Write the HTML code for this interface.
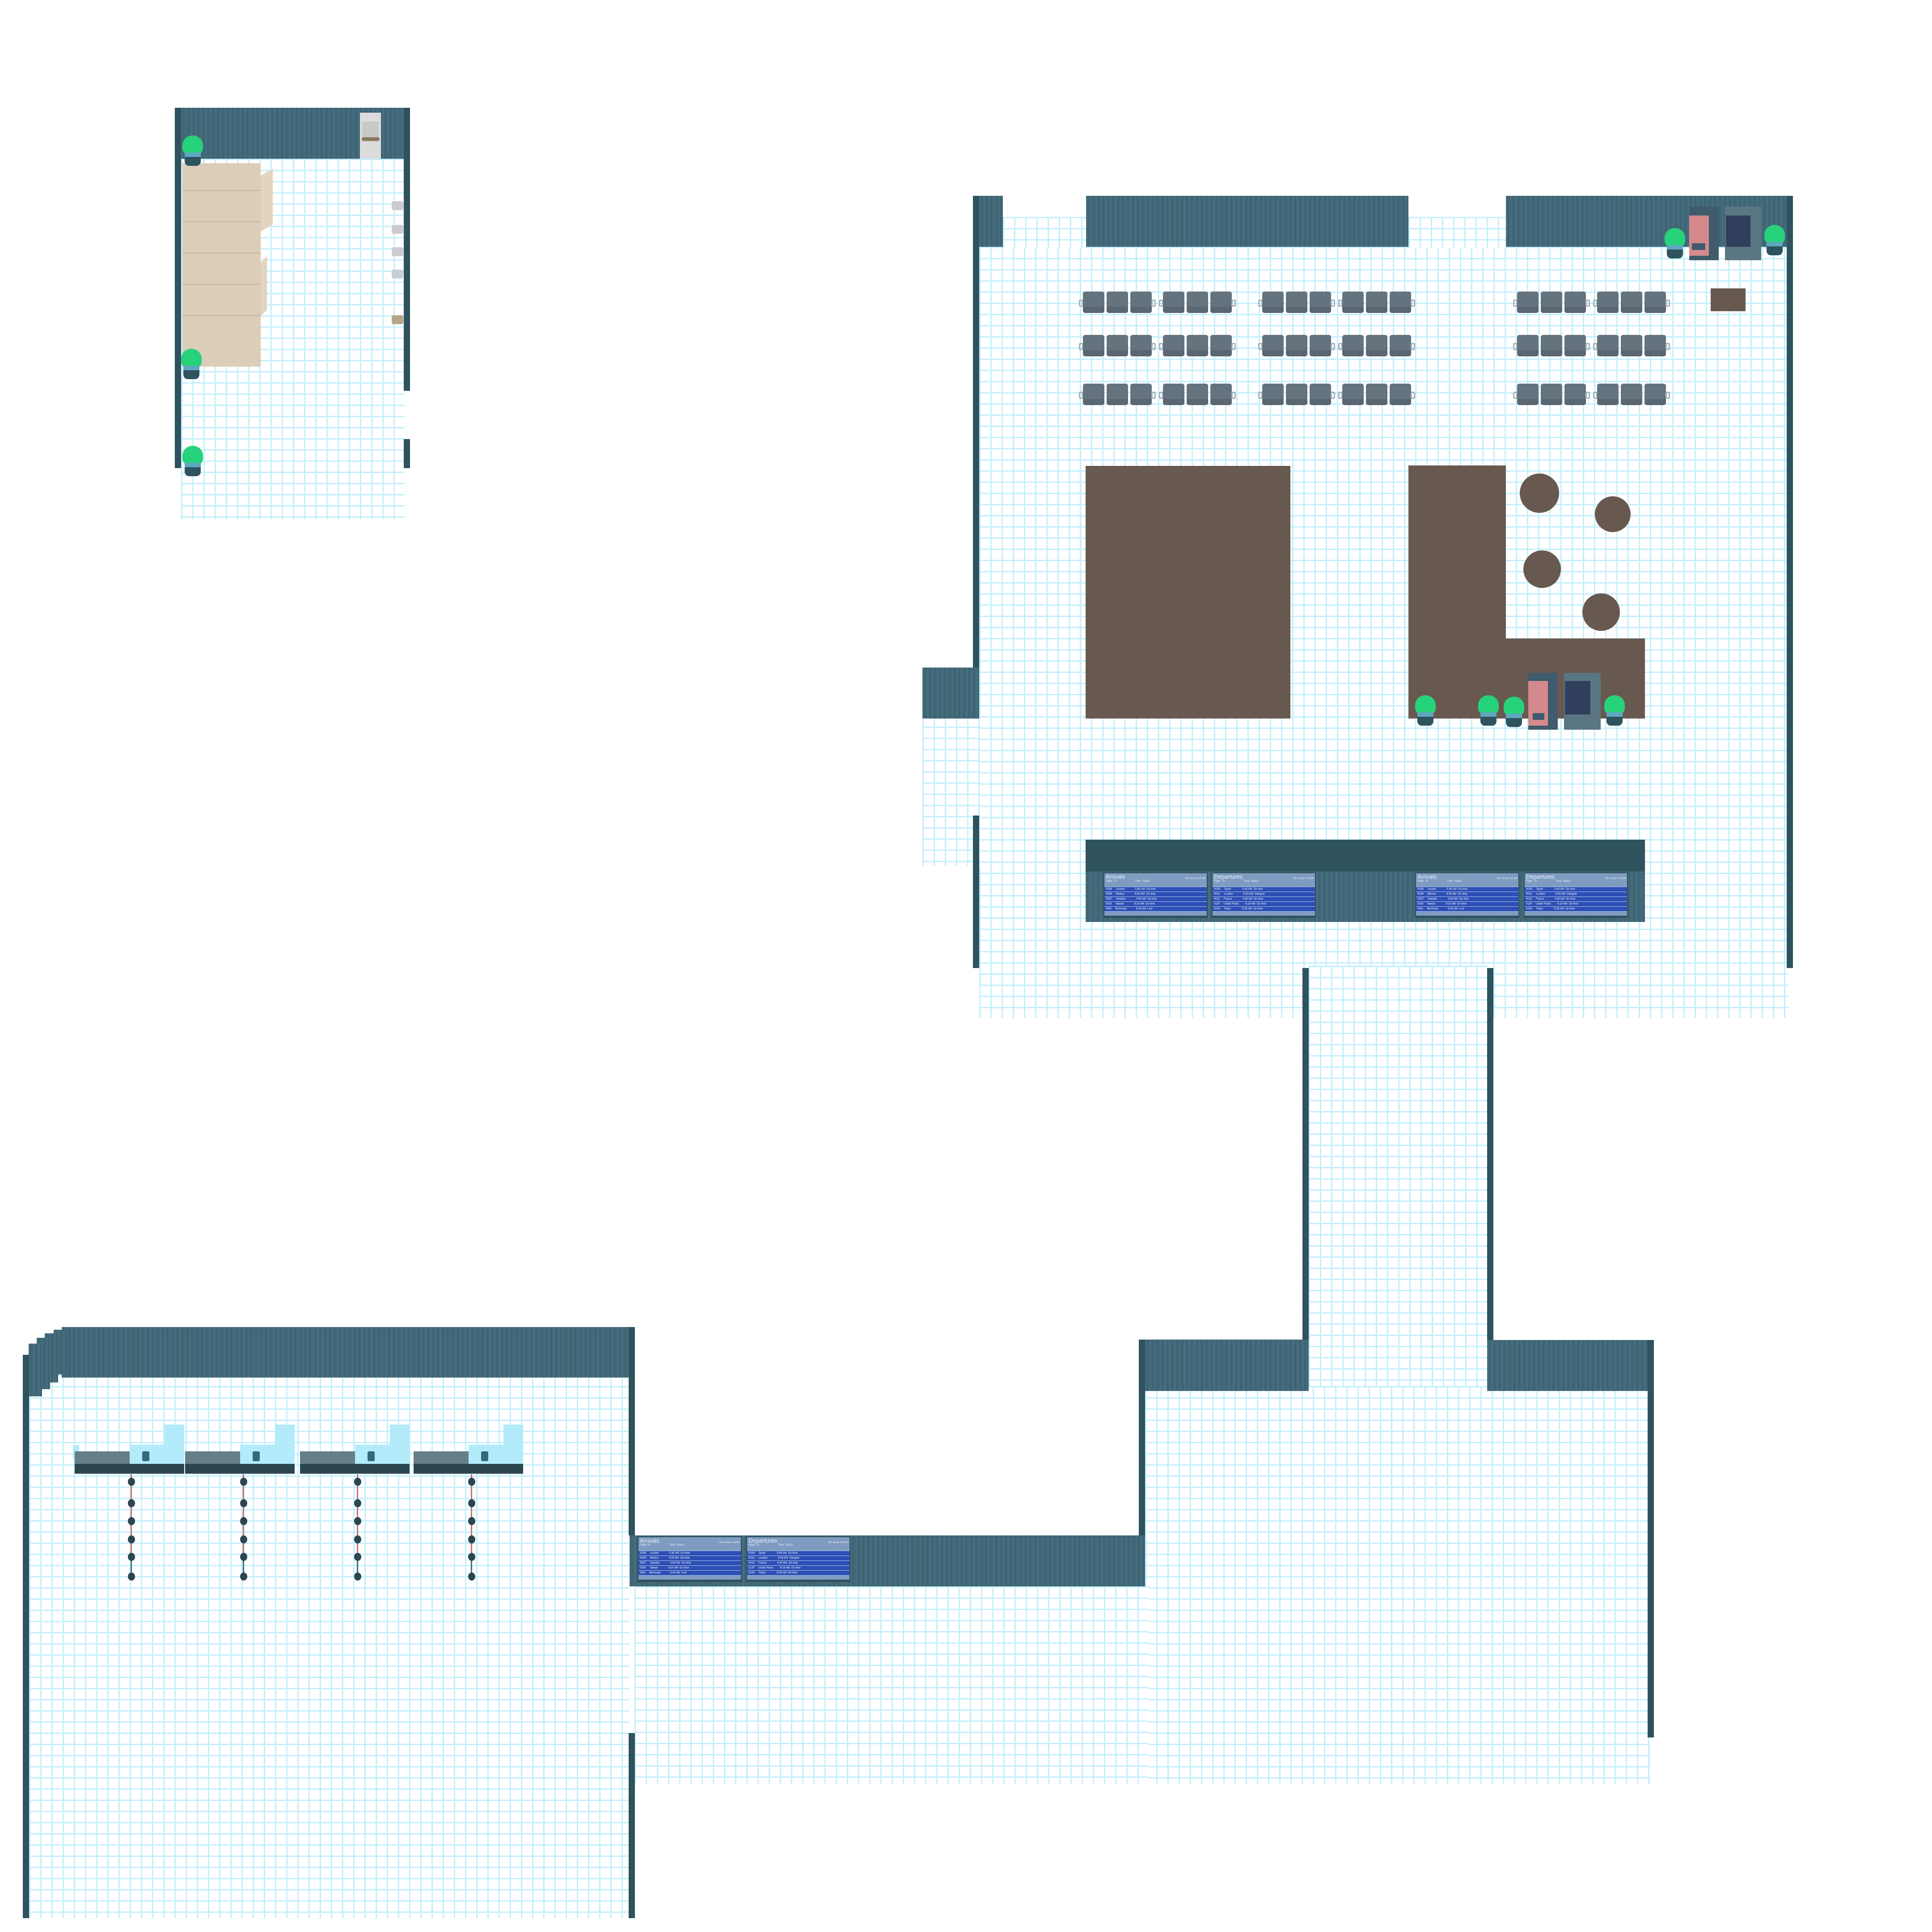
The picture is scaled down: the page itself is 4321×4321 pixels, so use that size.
<!DOCTYPE html>
<html><head><meta charset="utf-8"><style>
*{margin:0;padding:0;box-sizing:border-box}
body{width:4321px;height:4321px;background:#fff;position:relative;overflow:hidden;font-family:"Liberation Sans",sans-serif}
div{position:absolute}
.g{background-color:#fff;background-image:linear-gradient(90deg,#c4effc 0,#c4effc 3px,transparent 3px),linear-gradient(0deg,transparent 22px,#c4effc 22px,#c4effc 25px);background-size:25px 25px;background-attachment:local}
.w{background:#41697a;background-image:repeating-linear-gradient(90deg,rgba(255,255,255,.04) 0 3px,rgba(0,0,0,.05) 3px 7px,transparent 7px 11px)}
.d{background:#2e535e}
.br{background:#685950}
.pl{width:46px;height:70px}
.pl i{position:absolute;left:0;top:0;width:46px;height:44px;background:#27d37a;border-radius:50% 50% 35% 35%}
.pl b{position:absolute;left:5px;top:38px;width:36px;height:12px;background:#5fa7bf}
.pl u{position:absolute;left:5px;top:48px;width:36px;height:20px;background:#2e535e;border-radius:0 0 10px 10px}
.bench{width:174px;height:50px}
.bench s{position:absolute;top:0;width:48px;height:48px;background:#65737f;border-radius:5px;border-bottom:14px solid #5a6671}
.bench em{position:absolute;top:18px;width:10px;height:16px;border:3px solid #a8b1ba;border-radius:3px}
.brd{width:233px;height:102px;background:#2e4f5c;padding:2px}
.brd .h{position:relative;height:30px;background:#7f9cc0;color:#e8efff;font-size:13px;padding:1px 3px;line-height:13px}
.brd .h small{position:absolute;right:3px;top:6px;font-size:5px}
.brd .h span{display:block;font-size:6px;line-height:8px}
.brd .r{position:relative;height:11px;background:#2d4fb5;border-top:1px solid #a8c3ee;color:#fff;font-size:6px;line-height:10px;padding-left:3px;white-space:pre}
.brd .f{position:relative;height:10px;background:#7f9cc0;border-top:1px solid #a8c3ee}
.cu{width:250px;height:130px}
.cu .t{left:78px;top:0;width:44px;height:50px;background:#b3ebfb}
.cu .m{left:0;top:45px;width:122px;height:43px;background:#b3ebfb}
.cu .bz{left:-123px;top:60px;width:123px;height:30px;background:#647f87}
.cu .bl{left:-123px;top:88px;width:123px;height:22px;background:#2b4651}
.cu .ml{left:0;top:88px;width:122px;height:22px;background:#2b4651}
.cu .ic{left:28px;top:60px;width:16px;height:22px;background:#2f6a80;border-radius:3px}
.st{width:18px;height:240px}
.st .p{left:7px;top:0;width:3px;height:190px;background:#c77272}
.st .q{left:7px;top:190px;width:3px;height:40px;background:#3f6d7a}
.st .n{left:1px;width:16px;height:18px;background:#2b4651;border-radius:50%}
</style></head><body>

<!-- floors -->
<div class="g" style="left:405px;top:355px;width:500px;height:807px"></div>
<div class="g" style="left:2190px;top:552px;width:1810px;height:1725px"></div>
<div class="g" style="left:2243px;top:485px;width:186px;height:70px"></div>
<div class="g" style="left:3150px;top:485px;width:218px;height:70px"></div>
<div class="g" style="left:2063px;top:1600px;width:130px;height:337px"></div>
<div class="g" style="left:2927px;top:2160px;width:400px;height:960px"></div>
<div class="g" style="left:2561px;top:3100px;width:1130px;height:890px"></div>
<div class="g" style="left:1419px;top:3548px;width:1150px;height:442px"></div>
<div class="g" style="left:65px;top:3075px;width:1342px;height:1215px"></div>

<!-- storage room -->
<div class="w" style="left:405px;top:241px;width:498px;height:114px"></div>
<div class="d" style="left:391px;top:241px;width:14px;height:806px"></div>
<div class="d" style="left:903px;top:241px;width:14px;height:633px"></div>
<div class="d" style="left:903px;top:982px;width:14px;height:65px"></div>
<div style="left:805px;top:252px;width:47px;height:103px;background:#dcdcdc"><div style="left:5px;top:20px;width:37px;height:45px;background:#c8c8c8"></div><div style="left:4px;top:55px;width:40px;height:8px;background:#8a7a5c;border-radius:4px"></div></div>
<div style="left:408px;top:365px;width:175px;height:455px;background:#dccdb8"></div>
<div style="left:408px;top:425px;width:175px;height:2px;background:#c8b69c"></div>
<div style="left:408px;top:495px;width:175px;height:2px;background:#c8b69c"></div>
<div style="left:408px;top:565px;width:175px;height:2px;background:#c8b69c"></div>
<div style="left:408px;top:635px;width:175px;height:2px;background:#c8b69c"></div>
<div style="left:408px;top:705px;width:175px;height:2px;background:#c8b69c"></div>
<div style="left:583px;top:385px;width:27px;height:125px;background:#e2d4bf;transform:skewY(-30deg)"></div>
<div style="left:583px;top:580px;width:14px;height:120px;background:#e2d4bf;transform:skewY(-45deg)"></div>
<div style="left:876px;top:450px;width:26px;height:20px;background:#ccc;border-radius:4px"></div>
<div style="left:876px;top:503px;width:26px;height:20px;background:#ccc;border-radius:4px"></div>
<div style="left:876px;top:553px;width:26px;height:20px;background:#ccc;border-radius:4px"></div>
<div style="left:876px;top:603px;width:26px;height:20px;background:#c6d0d6;border-radius:4px"></div>
<div style="left:876px;top:705px;width:26px;height:20px;background:#b5a88a;border-radius:4px"></div>
<div class="pl" style="left:408px;top:303px"><i></i><b></b><u></u></div>
<div class="pl" style="left:405px;top:780px"><i></i><b></b><u></u></div>
<div class="pl" style="left:408px;top:997px"><i></i><b></b><u></u></div>

<!-- big room walls -->
<div class="d" style="left:2176px;top:438px;width:14px;height:1060px"></div>
<div class="w" style="left:2190px;top:438px;width:53px;height:114px"></div>
<div class="w" style="left:2429px;top:438px;width:721px;height:114px"></div>
<div class="w" style="left:3368px;top:438px;width:628px;height:114px"></div>
<div class="d" style="left:3996px;top:438px;width:14px;height:1727px"></div>
<div class="w" style="left:2063px;top:1493px;width:127px;height:114px"></div>
<div class="d" style="left:2176px;top:1824px;width:14px;height:341px"></div>

<!-- vending top -->
<div class="pl" style="left:3723px;top:510px"><i></i><b></b><u></u></div>
<div style="left:3778px;top:462px;width:66px;height:120px;background:#3f5b6c"><div style="left:0;top:20px;width:44px;height:90px;background:#d48a8c"></div><div style="left:6px;top:82px;width:30px;height:15px;background:#3f5b6c"></div></div>
<div style="left:3858px;top:462px;width:81px;height:120px;background:#5b7683"><div style="left:2px;top:20px;width:55px;height:70px;background:#2f3f5c"></div></div>
<div class="pl" style="left:3946px;top:503px"><i></i><b></b><u></u></div>
<div class="br" style="left:3826px;top:645px;width:78px;height:51px"></div>

<!-- benches -->
<div class="bench" style="left:2413px;top:652px"><em style="left:0"></em><s style="left:9px"></s><s style="left:62px"></s><s style="left:115px"></s><em style="left:162px"></em></div>
<div class="bench" style="left:2592px;top:652px"><em style="left:0"></em><s style="left:9px"></s><s style="left:62px"></s><s style="left:115px"></s><em style="left:162px"></em></div>
<div class="bench" style="left:2814px;top:652px"><em style="left:0"></em><s style="left:9px"></s><s style="left:62px"></s><s style="left:115px"></s><em style="left:162px"></em></div>
<div class="bench" style="left:2993px;top:652px"><em style="left:0"></em><s style="left:9px"></s><s style="left:62px"></s><s style="left:115px"></s><em style="left:162px"></em></div>
<div class="bench" style="left:3384px;top:652px"><em style="left:0"></em><s style="left:9px"></s><s style="left:62px"></s><s style="left:115px"></s><em style="left:162px"></em></div>
<div class="bench" style="left:3563px;top:652px"><em style="left:0"></em><s style="left:9px"></s><s style="left:62px"></s><s style="left:115px"></s><em style="left:162px"></em></div>

<div class="bench" style="left:2413px;top:749px"><em style="left:0"></em><s style="left:9px"></s><s style="left:62px"></s><s style="left:115px"></s><em style="left:162px"></em></div>
<div class="bench" style="left:2592px;top:749px"><em style="left:0"></em><s style="left:9px"></s><s style="left:62px"></s><s style="left:115px"></s><em style="left:162px"></em></div>
<div class="bench" style="left:2814px;top:749px"><em style="left:0"></em><s style="left:9px"></s><s style="left:62px"></s><s style="left:115px"></s><em style="left:162px"></em></div>
<div class="bench" style="left:2993px;top:749px"><em style="left:0"></em><s style="left:9px"></s><s style="left:62px"></s><s style="left:115px"></s><em style="left:162px"></em></div>
<div class="bench" style="left:3384px;top:749px"><em style="left:0"></em><s style="left:9px"></s><s style="left:62px"></s><s style="left:115px"></s><em style="left:162px"></em></div>
<div class="bench" style="left:3563px;top:749px"><em style="left:0"></em><s style="left:9px"></s><s style="left:62px"></s><s style="left:115px"></s><em style="left:162px"></em></div>

<div class="bench" style="left:2413px;top:858px"><em style="left:0"></em><s style="left:9px"></s><s style="left:62px"></s><s style="left:115px"></s><em style="left:162px"></em></div>
<div class="bench" style="left:2592px;top:858px"><em style="left:0"></em><s style="left:9px"></s><s style="left:62px"></s><s style="left:115px"></s><em style="left:162px"></em></div>
<div class="bench" style="left:2814px;top:858px"><em style="left:0"></em><s style="left:9px"></s><s style="left:62px"></s><s style="left:115px"></s><em style="left:162px"></em></div>
<div class="bench" style="left:2993px;top:858px"><em style="left:0"></em><s style="left:9px"></s><s style="left:62px"></s><s style="left:115px"></s><em style="left:162px"></em></div>
<div class="bench" style="left:3384px;top:858px"><em style="left:0"></em><s style="left:9px"></s><s style="left:62px"></s><s style="left:115px"></s><em style="left:162px"></em></div>
<div class="bench" style="left:3563px;top:858px"><em style="left:0"></em><s style="left:9px"></s><s style="left:62px"></s><s style="left:115px"></s><em style="left:162px"></em></div>

<!-- brown blocks -->
<div class="br" style="left:2428px;top:1042px;width:458px;height:565px"></div>
<div class="br" style="left:3150px;top:1041px;width:218px;height:566px"></div>
<div class="br" style="left:3367px;top:1428px;width:312px;height:179px"></div>
<div class="br" style="left:3399px;top:1059px;width:88px;height:88px;border-radius:50%"></div>
<div class="br" style="left:3567px;top:1110px;width:80px;height:80px;border-radius:50%"></div>
<div class="br" style="left:3407px;top:1231px;width:84px;height:84px;border-radius:50%"></div>
<div class="br" style="left:3539px;top:1327px;width:84px;height:84px;border-radius:50%"></div>
<div class="pl" style="left:3165px;top:1555px"><i></i><b></b><u></u></div>
<div class="pl" style="left:3306px;top:1555px"><i></i><b></b><u></u></div>
<div class="pl" style="left:3363px;top:1558px"><i></i><b></b><u></u></div>
<div style="left:3418px;top:1505px;width:66px;height:127px;background:#3f5b6c"><div style="left:0;top:18px;width:44px;height:100px;background:#d48a8c"></div><div style="left:10px;top:90px;width:26px;height:15px;background:#3f5b6c"></div></div>
<div style="left:3498px;top:1505px;width:82px;height:127px;background:#5b7683"><div style="left:2px;top:18px;width:57px;height:75px;background:#2f3f5c"></div></div>
<div class="pl" style="left:3588px;top:1555px"><i></i><b></b><u></u></div>

<!-- board wall -->
<div class="w" style="left:2428px;top:1878px;width:1251px;height:184px"></div>
<div class="d" style="left:2428px;top:1878px;width:1251px;height:71px"></div>

<div class="brd" style="left:2468px;top:1951px"><div class="h">Arrivals<small>Mon 28 Apr 4:20 AM</small><span>Flight&nbsp;&nbsp;To&nbsp;&nbsp;&nbsp;&nbsp;&nbsp;&nbsp;&nbsp;&nbsp;&nbsp;&nbsp;&nbsp;&nbsp;&nbsp;&nbsp;&nbsp;&nbsp;&nbsp;&nbsp;&nbsp;&nbsp;&nbsp;&nbsp;&nbsp;&nbsp;&nbsp;Time&nbsp;&nbsp;Status</span></div><div class="r">002B     London              5:45 AM  On time</div><div class="r">000R     Mexico              6:30 AM  On time</div><div class="r">0N0T     Sweden              4:40 AM  On time</div><div class="r">0028     Taiwan              6:10 AM  On time</div><div class="r">0001     Bermuda             5:25 AM  Lost</div><div class="f"></div></div>
<div class="brd" style="left:2710px;top:1951px"><div class="h">Departures<small>Mon 28 Apr 4:20 AM</small><span>Flight&nbsp;&nbsp;To&nbsp;&nbsp;&nbsp;&nbsp;&nbsp;&nbsp;&nbsp;&nbsp;&nbsp;&nbsp;&nbsp;&nbsp;&nbsp;&nbsp;&nbsp;&nbsp;&nbsp;&nbsp;&nbsp;&nbsp;&nbsp;&nbsp;&nbsp;&nbsp;&nbsp;Time&nbsp;&nbsp;Status</span></div><div class="r">003G     Spain               5:45 AM  On time</div><div class="r">001C     London              6:30 AM  Delayed</div><div class="r">001Z     France              4:40 AM  On time</div><div class="r">012F     Under Pants         6:10 AM  On time</div><div class="r">014S     Tokyo               5:25 AM  On time</div><div class="f"></div></div>
<div class="brd" style="left:3165px;top:1951px"><div class="h">Arrivals<small>Mon 28 Apr 4:20 AM</small><span>Flight&nbsp;&nbsp;To&nbsp;&nbsp;&nbsp;&nbsp;&nbsp;&nbsp;&nbsp;&nbsp;&nbsp;&nbsp;&nbsp;&nbsp;&nbsp;&nbsp;&nbsp;&nbsp;&nbsp;&nbsp;&nbsp;&nbsp;&nbsp;&nbsp;&nbsp;&nbsp;&nbsp;Time&nbsp;&nbsp;Status</span></div><div class="r">002B     London              5:45 AM  On time</div><div class="r">000R     Mexico              6:30 AM  On time</div><div class="r">0N0T     Sweden              4:40 AM  On time</div><div class="r">0028     Taiwan              6:10 AM  On time</div><div class="r">0001     Bermuda             5:25 AM  Lost</div><div class="f"></div></div>
<div class="brd" style="left:3408px;top:1951px"><div class="h">Departures<small>Mon 28 Apr 4:20 AM</small><span>Flight&nbsp;&nbsp;To&nbsp;&nbsp;&nbsp;&nbsp;&nbsp;&nbsp;&nbsp;&nbsp;&nbsp;&nbsp;&nbsp;&nbsp;&nbsp;&nbsp;&nbsp;&nbsp;&nbsp;&nbsp;&nbsp;&nbsp;&nbsp;&nbsp;&nbsp;&nbsp;&nbsp;Time&nbsp;&nbsp;Status</span></div><div class="r">003G     Spain               5:45 AM  On time</div><div class="r">001C     London              6:30 AM  Delayed</div><div class="r">001Z     France              4:40 AM  On time</div><div class="r">012F     Under Pants         6:10 AM  On time</div><div class="r">014S     Tokyo               5:25 AM  On time</div><div class="f"></div></div>

<!-- corridor -->
<div class="d" style="left:2913px;top:2165px;width:14px;height:832px"></div>
<div class="d" style="left:3326px;top:2165px;width:14px;height:832px"></div>
<div class="w" style="left:2561px;top:2996px;width:366px;height:115px"></div>
<div class="d" style="left:2547px;top:2996px;width:14px;height:445px"></div>
<div class="w" style="left:3326px;top:2997px;width:359px;height:114px"></div>
<div class="d" style="left:3685px;top:2997px;width:14px;height:889px"></div>

<!-- bottom corridor wall -->
<div class="w" style="left:1408px;top:3434px;width:1153px;height:114px"></div>
<div class="brd" style="left:1426px;top:3436px"><div class="h">Arrivals<small>Mon 28 Apr 4:20 AM</small><span>Flight&nbsp;&nbsp;To&nbsp;&nbsp;&nbsp;&nbsp;&nbsp;&nbsp;&nbsp;&nbsp;&nbsp;&nbsp;&nbsp;&nbsp;&nbsp;&nbsp;&nbsp;&nbsp;&nbsp;&nbsp;&nbsp;&nbsp;&nbsp;&nbsp;&nbsp;&nbsp;&nbsp;Time&nbsp;&nbsp;Status</span></div><div class="r">002B     London              5:45 AM  On time</div><div class="r">000R     Mexico              6:30 AM  On time</div><div class="r">0N0T     Sweden              4:40 AM  On time</div><div class="r">0028     Taiwan              6:10 AM  On time</div><div class="r">0001     Bermuda             5:25 AM  Lost</div><div class="f"></div></div>
<div class="brd" style="left:1669px;top:3436px"><div class="h">Departures<small>Mon 28 Apr 4:20 AM</small><span>Flight&nbsp;&nbsp;To&nbsp;&nbsp;&nbsp;&nbsp;&nbsp;&nbsp;&nbsp;&nbsp;&nbsp;&nbsp;&nbsp;&nbsp;&nbsp;&nbsp;&nbsp;&nbsp;&nbsp;&nbsp;&nbsp;&nbsp;&nbsp;&nbsp;&nbsp;&nbsp;&nbsp;Time&nbsp;&nbsp;Status</span></div><div class="r">003G     Spain               5:45 AM  On time</div><div class="r">001C     London              6:30 AM  Delayed</div><div class="r">001Z     France              4:40 AM  On time</div><div class="r">012F     Under Pants         6:10 AM  On time</div><div class="r">014S     Tokyo               5:25 AM  On time</div><div class="f"></div></div>

<!-- bottom-left room -->
<div class="w" style="left:138px;top:2968px;width:1268px;height:113px"></div>
<div class="w" style="left:120px;top:2974px;width:30px;height:100px"></div>
<div class="w" style="left:100px;top:2982px;width:30px;height:110px"></div>
<div class="w" style="left:82px;top:2992px;width:30px;height:115px"></div>
<div class="w" style="left:64px;top:3005px;width:30px;height:118px"></div>
<div class="d" style="left:51px;top:3030px;width:14px;height:1260px"></div>
<div class="d" style="left:1406px;top:2968px;width:14px;height:466px"></div>
<div class="d" style="left:1406px;top:3876px;width:14px;height:414px"></div>

<!-- baggage counters -->
<div style="left:165px;top:3600px;width:0;height:0"></div>
<div style="left:163px;top:3232px;width:14px;height:30px;background:#b3ebfb"></div>
<div class="cu" style="left:290px;top:3186px"><div class="bz"></div><div class="bl"></div><div class="t"></div><div class="m"></div><div class="ml"></div><div class="ic"></div></div>
<div class="cu" style="left:537px;top:3186px"><div class="bz"></div><div class="bl"></div><div class="t"></div><div class="m"></div><div class="ml"></div><div class="ic"></div></div>
<div class="cu" style="left:794px;top:3186px"><div class="bz"></div><div class="bl"></div><div class="t"></div><div class="m"></div><div class="ml"></div><div class="ic"></div></div>
<div class="cu" style="left:1048px;top:3186px"><div class="bz"></div><div class="bl"></div><div class="t"></div><div class="m"></div><div class="ml"></div><div class="ic"></div></div>

<!-- stanchions -->
<div class="st" style="left:285px;top:3297px"><div class="p"></div><div class="q"></div><div class="n" style="top:8px"></div><div class="n" style="top:56px"></div><div class="n" style="top:96px"></div><div class="n" style="top:137px"></div><div class="n" style="top:176px"></div><div class="n" style="top:220px"></div></div>
<div class="st" style="left:536px;top:3297px"><div class="p"></div><div class="q"></div><div class="n" style="top:8px"></div><div class="n" style="top:56px"></div><div class="n" style="top:96px"></div><div class="n" style="top:137px"></div><div class="n" style="top:176px"></div><div class="n" style="top:220px"></div></div>
<div class="st" style="left:791px;top:3297px"><div class="p"></div><div class="q"></div><div class="n" style="top:8px"></div><div class="n" style="top:56px"></div><div class="n" style="top:96px"></div><div class="n" style="top:137px"></div><div class="n" style="top:176px"></div><div class="n" style="top:220px"></div></div>
<div class="st" style="left:1046px;top:3297px"><div class="p"></div><div class="q"></div><div class="n" style="top:8px"></div><div class="n" style="top:56px"></div><div class="n" style="top:96px"></div><div class="n" style="top:137px"></div><div class="n" style="top:176px"></div><div class="n" style="top:220px"></div></div>
</body></html>
